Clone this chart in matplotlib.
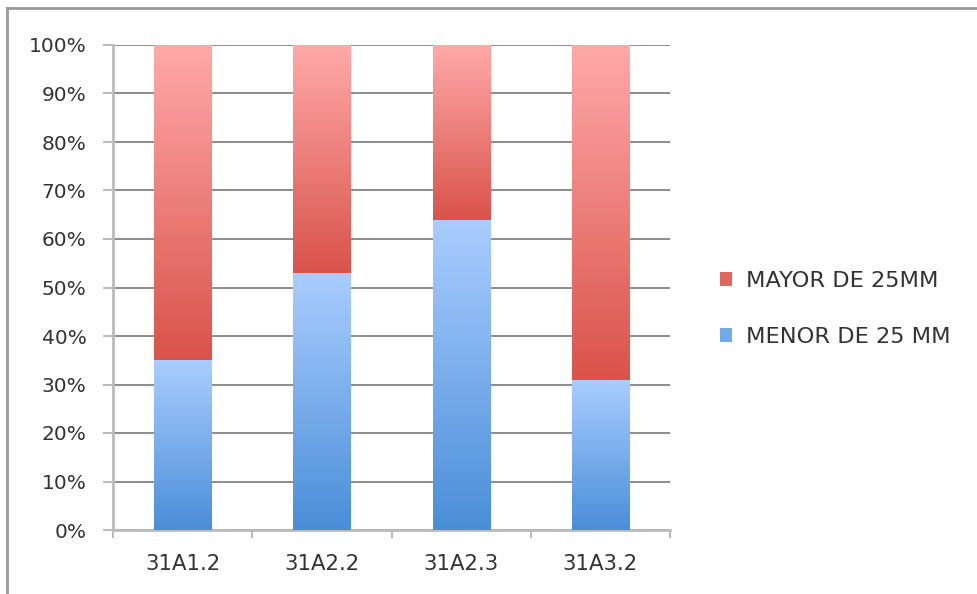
import numpy as np
import matplotlib
matplotlib.use("Agg")
import matplotlib.pyplot as plt
from matplotlib.colors import to_rgb
from matplotlib.lines import Line2D
from matplotlib.patches import Patch

categories = ["31A1.2", "31A2.2", "31A2.3", "31A3.2"]
menor = [35, 53, 64, 31]      # MENOR DE 25 MM (%)
mayor = [65, 47, 36, 69]      # MAYOR DE 25MM (%)
series_names = ["MENOR DE 25 MM", "MAYOR DE 25MM"]
yticks = list(range(0, 101, 10))

plt.rcParams['font.family'] = ['DejaVu Sans']

fig = plt.figure(figsize=(9.77, 5.94), dpi=100)
ax = fig.add_axes([113/977, 1-530/594, (670-113)/977, (530-45)/594])

x = np.arange(len(categories))
width = 0.41

blue_bottom, blue_top = to_rgb("#4a8ed8"), to_rgb("#aacdff")
red_bottom, red_top = to_rgb("#d9534a"), to_rgb("#ffa9a9")

def grad_fill(patch, cbot, ctop):
    bx, by = patch.get_x(), patch.get_y()
    w, h = patch.get_width(), patch.get_height()
    t = np.linspace(0, 1, 256)[:, None, None]
    img = (1 - t) * np.array(cbot)[None, None, :] + t * np.array(ctop)[None, None, :]
    im = ax.imshow(img, extent=(bx, bx + w, by, by + h), origin='lower',
                   aspect='auto', zorder=3, interpolation='bilinear')
    im.set_clip_path(patch)

b1 = ax.bar(x, menor, width, color='none', edgecolor='none', zorder=3)
b2 = ax.bar(x, mayor, width, bottom=menor, color='none', edgecolor='none', zorder=3)
for p in b1:
    grad_fill(p, blue_bottom, blue_top)
for p in b2:
    grad_fill(p, red_bottom, red_top)

ax.set_xlim(-0.5, len(categories) - 0.5)
ax.set_ylim(0, 100)
ax.set_yticks(yticks)
ax.set_yticklabels([f"{v}%" for v in yticks])
ax.yaxis.grid(True, color='#8c8c8c', linewidth=1.4, zorder=0)
ax.set_axisbelow(True)

ax.set_xticks(x)
ax.set_xticklabels(categories)
ax.tick_params(axis='x', length=0, pad=17, labelsize=15.3, labelcolor='#333333')
ax.set_xticks(np.arange(len(categories) + 1) - 0.5, minor=True)
ax.tick_params(axis='x', which='minor', length=6, width=1.5, color='#bbbbbb', direction='out')
ax.tick_params(axis='y', length=7, width=1.5, color='#bbbbbb', labelsize=14.5,
               labelcolor='#333333', pad=12)

for s in ['top', 'right']:
    ax.spines[s].set_visible(False)
for s in ['left', 'bottom']:
    ax.spines[s].set_color('#bbbbbb')
    ax.spines[s].set_linewidth(2)

handles = [Patch(facecolor='#e0675f', edgecolor='none'),
           Patch(facecolor='#72a9e8', edgecolor='none')]
leg = fig.legend(handles, [series_names[1], series_names[0]],
                 loc='center left', bbox_to_anchor=(720/977, 1-309/594),
                 frameon=False, fontsize=16.2, handlelength=0.55, handleheight=0.55,
                 handletextpad=0.6, labelspacing=1.62, labelcolor='#333333',
                 borderpad=0, borderaxespad=0)

# figure frame (top and left edges)
fig.add_artist(Line2D([7/977, 7/977], [0, 1-8/594], transform=fig.transFigure,
                      color='#9a9a9a', linewidth=2))
fig.add_artist(Line2D([7/977, 1], [1-8/594, 1-8/594], transform=fig.transFigure,
                      color='#9a9a9a', linewidth=2))

fig.savefig("out.png", dpi=100)
